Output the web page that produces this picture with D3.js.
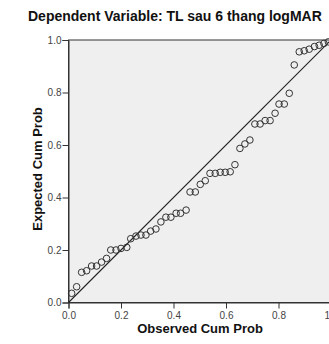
<!DOCTYPE html>
<html>
<head>
<meta charset="utf-8">
<script src="https://cdn.jsdelivr.net/npm/d3@7"></script>
<style>
  body { margin: 0; background: #fff; }
  svg { display: block; font-family: Arial, "Liberation Sans", sans-serif; }
</style>
</head>
<body>
<svg id="chart" width="329" height="344"></svg>
<script>
// values
const observed = [
  0.012, 0.031, 0.050, 0.069, 0.088, 0.107, 0.126, 0.145, 0.161, 0.181,
  0.200, 0.222, 0.237, 0.257, 0.276, 0.295, 0.313, 0.333, 0.352, 0.371,
  0.390, 0.410, 0.427, 0.448, 0.463, 0.483, 0.502, 0.521, 0.539, 0.559,
  0.578, 0.597, 0.616, 0.634, 0.653, 0.672, 0.691, 0.710, 0.730, 0.749,
  0.768, 0.787, 0.802, 0.822, 0.841, 0.860, 0.879, 0.898, 0.917, 0.937,
  0.955, 0.973, 0.990
];
const expected = [
  0.035, 0.060, 0.115, 0.121, 0.139, 0.139, 0.154, 0.168, 0.200, 0.200,
  0.206, 0.210, 0.243, 0.253, 0.257, 0.257, 0.272, 0.280, 0.307, 0.325,
  0.325, 0.340, 0.340, 0.352, 0.421, 0.421, 0.450, 0.464, 0.492, 0.492,
  0.496, 0.496, 0.498, 0.525, 0.587, 0.604, 0.619, 0.680, 0.680, 0.693,
  0.693, 0.721, 0.756, 0.756, 0.797, 0.905, 0.955, 0.959, 0.965, 0.975,
  0.980, 0.987, 0.993
];
const tickValues = [0, 0.2, 0.4, 0.6, 0.8, 1.0];

const titleText = 'Dependent Variable: TL sau 6 thang logMAR';
const xTitle = 'Observed Cum Prob';
const yTitle = 'Expected Cum Prob';

const svg = d3.select('#chart');
const plot = { left: 68.5, right: 331, top: 40, bottom: 302.5 };

const x = d3.scaleLinear().domain([0, 1]).range([plot.left, plot.right]);
const y = d3.scaleLinear().domain([0, 1]).range([plot.bottom, plot.top]);

// title
svg.append('text')
  .attr('x', 28).attr('y', 21)
  .attr('font-size', 14).attr('font-weight', 'bold')
  .attr('fill', '#111')
  .text(titleText);

// plot background + frame
svg.append('rect')
  .attr('x', plot.left).attr('y', plot.top)
  .attr('width', plot.right - plot.left).attr('height', plot.bottom - plot.top)
  .attr('fill', '#efefef')
  .attr('stroke', '#333').attr('stroke-width', 1);

// axes
const xAxis = svg.append('g')
  .attr('transform', `translate(0,${plot.bottom})`)
  .call(d3.axisBottom(x).tickValues(tickValues).tickFormat(d3.format('.1f')).tickSize(6).tickPadding(3));
const yAxis = svg.append('g')
  .attr('transform', `translate(${plot.left},0)`)
  .call(d3.axisLeft(y).tickValues(tickValues).tickFormat(d3.format('.1f')).tickSize(6).tickPadding(1));

[xAxis, yAxis].forEach(g => {
  g.select('.domain').attr('stroke', '#333');
  g.selectAll('.tick line').attr('stroke', '#333');
  g.selectAll('.tick text')
    .attr('font-size', 10)
    .attr('font-family', 'Arial, "Liberation Sans", sans-serif')
    .attr('fill', '#444');
});

// diagonal reference line
svg.append('line')
  .attr('x1', x(0)).attr('y1', y(0))
  .attr('x2', x(1)).attr('y2', y(1))
  .attr('stroke', '#222').attr('stroke-width', 1.1);

// points
svg.append('g')
  .selectAll('circle')
  .data(observed.map((o, i) => [o, expected[i]]))
  .join('circle')
  .attr('cx', d => x(d[0]))
  .attr('cy', d => y(d[1]))
  .attr('r', 3.3)
  .attr('fill', 'none')
  .attr('stroke', '#333')
  .attr('stroke-width', 1);

// axis titles
svg.append('text')
  .attr('x', 200).attr('y', 333)
  .attr('text-anchor', 'middle')
  .attr('font-size', 13).attr('font-weight', 'bold')
  .attr('fill', '#111')
  .text(xTitle);

svg.append('text')
  .attr('transform', 'translate(42,169) rotate(-90)')
  .attr('text-anchor', 'middle')
  .attr('font-size', 13).attr('font-weight', 'bold')
  .attr('fill', '#111')
  .text(yTitle);
</script>
</body>
</html>
